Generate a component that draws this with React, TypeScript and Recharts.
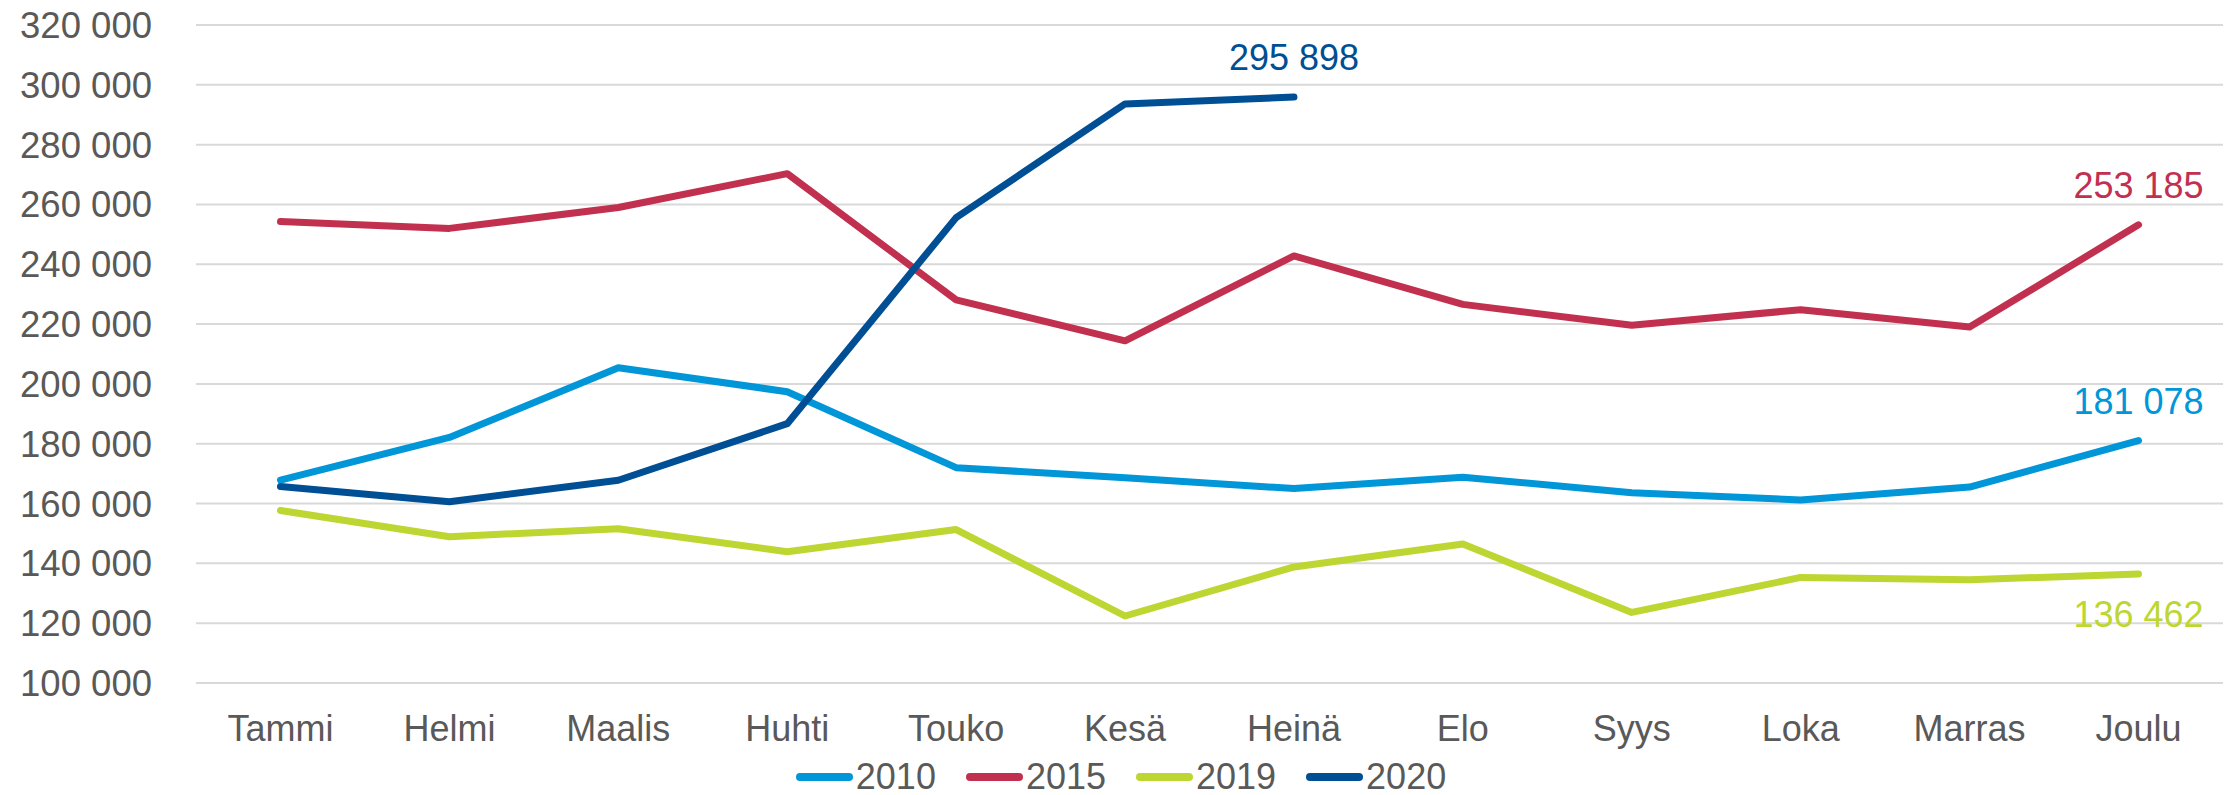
import React from 'react';
import { LineChart, Line, XAxis, YAxis, CartesianGrid, Legend, LabelList } from 'recharts';

const months = ['Tammi', 'Helmi', 'Maalis', 'Huhti', 'Touko', 'Kesä', 'Heinä', 'Elo', 'Syys', 'Loka', 'Marras', 'Joulu'];
const s2010 = [167800, 182100, 205400, 197400, 172000, 168600, 165000, 168800, 163600, 161200, 165500, 181078];
const s2015 = [254300, 252000, 259000, 270300, 228100, 214400, 242800, 226600, 219600, 224800, 219000, 253185];
const s2019 = [157700, 148900, 151600, 143900, 151300, 122400, 138800, 146500, 123600, 135300, 134500, 136462];
const s2020 = [165700, 160600, 167800, 186700, 255600, 293600, 295898, null, null, null, null, null];
const yTicks = [100000, 120000, 140000, 160000, 180000, 200000, 220000, 240000, 260000, 280000, 300000, 320000];

const seriesNames = ['2010', '2015', '2019', '2020'];
const colors = ['#0096D8', '#C2304F', '#BDD631', '#004F95'];

const data = months.map((m, i) => ({
  month: m,
  '2010': s2010[i],
  '2015': s2015[i],
  '2019': s2019[i],
  '2020': s2020[i],
}));

const FONT = '"Liberation Sans", Arial, sans-serif';
const TEXT = '#595959';

const fmt = (v: number) => String(v).replace(/\B(?=(\d{3})+(?!\d))/g, ' ');

const makeLabel = (target: number, dy: number, color: string) => (props: any) => {
  const { x, y, index, value } = props;
  if (index !== target || value == null) return null;
  return (
    <text x={x} y={y + dy} fill={color} fontSize={36} fontFamily={FONT} textAnchor="middle">
      {fmt(Number(value))}
    </text>
  );
};

const renderLegend = (props: any) => {
  const payload = props.payload || [];
  return (
    <div
      style={{
        display: 'flex',
        justifyContent: 'center',
        alignItems: 'center',
        height: 36,
        lineHeight: '36px',
        width: 2231,
        paddingLeft: 11,
        boxSizing: 'border-box',
        fontFamily: FONT,
        fontSize: 36,
        color: TEXT,
      }}
    >
      {payload.map((entry: any, i: number) => (
        <div key={i} style={{ display: 'flex', alignItems: 'center', marginLeft: i === 0 ? 0 : 30 }}>
          <div style={{ width: 57, height: 8, borderRadius: 4, background: entry.color, marginRight: 3 }} />
          <span>{entry.value}</span>
        </div>
      ))}
    </div>
  );
};

export default function App() {
  return (
    <div style={{ position: 'absolute', left: 0, top: 0, width: 2231, height: 795, background: '#fff' }}>
      <LineChart width={2231} height={795} data={data} margin={{ top: 25, right: 8, left: 0, bottom: 0 }}>
        <CartesianGrid vertical={false} stroke="#d9d9d9" strokeWidth={2} />
        <XAxis
          dataKey="month"
          axisLine={false}
          tickLine={false}
          interval={0}
          padding={{ left: 84.5, right: 84.5 }}
          height={76}
          tickMargin={26}
          tick={{ fill: TEXT, fontSize: 36, fontFamily: FONT }}
        />
        <YAxis
          domain={[100000, 320000]}
          ticks={yTicks}
          interval={0}
          width={196}
          axisLine={false}
          tickLine={false}
          tickMargin={38}
          tickFormatter={fmt}
          tick={{ fill: TEXT, fontSize: 36.5, fontFamily: FONT }}
        />
        <Legend verticalAlign="bottom" align="left" wrapperStyle={{ left: 0 }} content={renderLegend} />
        {seriesNames.map((name, si) => (
          <Line
            key={name}
            type="linear"
            dataKey={name}
            stroke={colors[si]}
            strokeWidth={7}
            strokeLinecap="round"
            strokeLinejoin="round"
            dot={false}
            activeDot={false}
            isAnimationActive={false}
            connectNulls={false}
          >
            {name === '2010' && <LabelList dataKey={name} content={makeLabel(11, -27, colors[0])} />}
            {name === '2015' && <LabelList dataKey={name} content={makeLabel(11, -27, colors[1])} />}
            {name === '2019' && <LabelList dataKey={name} content={makeLabel(11, 53, colors[2])} />}
            {name === '2020' && <LabelList dataKey={name} content={makeLabel(6, -27, colors[3])} />}
          </Line>
        ))}
      </LineChart>
    </div>
  );
}
